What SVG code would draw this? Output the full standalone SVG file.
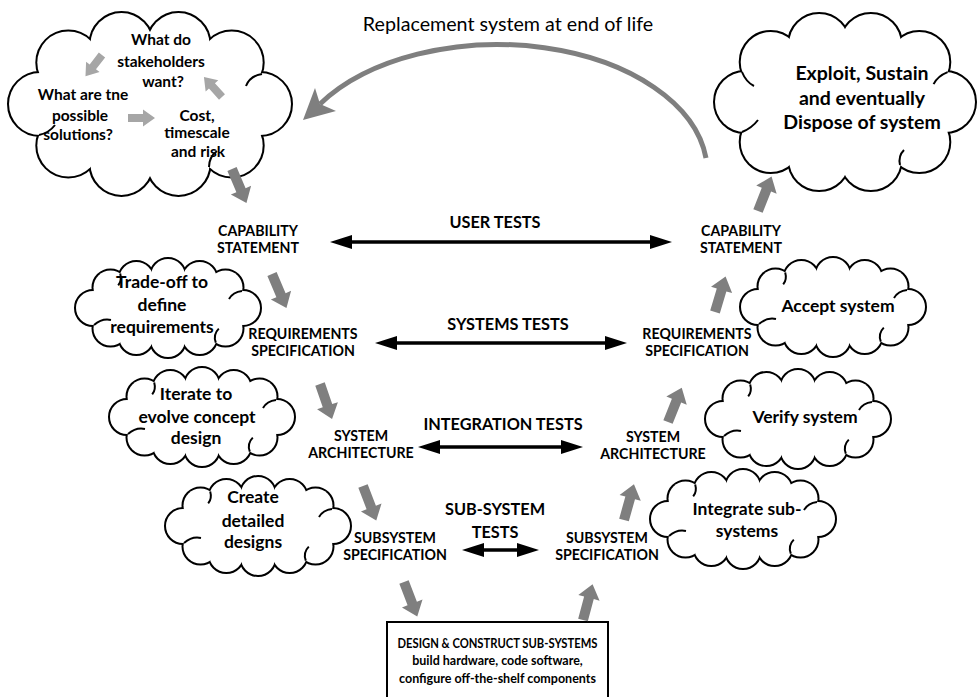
<svg xmlns="http://www.w3.org/2000/svg" xmlns:xlink="http://www.w3.org/1999/xlink" width="978" height="697" viewBox="0 0 978 697">
<style>
.t{font-family:Lato,"Liberation Sans",sans-serif;font-weight:bold;fill:#000;text-anchor:middle}
.reg{font-family:Lato,"Liberation Sans",sans-serif;font-weight:normal;fill:#000;text-anchor:middle;font-size:19.7px}
.s15{font-size:15.5px}.s17{font-size:17.5px}.s18{font-size:19.5px}.lab{font-size:14.2px}.tst{font-size:16.3px}.box{font-size:12.5px}
.cs{fill:#fff;stroke:#000;stroke-width:4}
.cf{fill:#fff;stroke:none}
.hk{fill:none;stroke:#000;stroke-width:2}
.dk{fill:#7f7f7f}
.lt{fill:#a6a6a6}
.dbl{stroke:#000;stroke-width:3.5;fill:none;marker-start:url(#ah);marker-end:url(#ah)}
</style>
<defs>
<marker id="ah" viewBox="0 0 22 14" refX="0" refY="7" markerWidth="22" markerHeight="14" markerUnits="userSpaceOnUse" orient="auto-start-reverse"><path d="M0,0 L22,7 L0,14 Z" fill="#000"/></marker>
<path id="blk" d="M-5,0 L5,0 L5,23 L11,23 L0,37 L-11,23 L-5,23 Z"/>
<path id="blkL" d="M-4,0 L4,0 L4,15 L8.5,15 L0,27 L-8.5,15 L-4,15 Z"/>
<g id="smallCloud">
<circle cx="75" cy="0" r="17"/>
<circle cx="57.5" cy="-20.6" r="17"/><circle cx="57.5" cy="20.6" r="17"/>
<circle cx="31.7" cy="-29" r="17"/><circle cx="31.7" cy="29" r="17"/>
<circle cx="0" cy="-32" r="17"/><circle cx="0" cy="32" r="17"/>
<circle cx="-31.7" cy="-29" r="17"/><circle cx="-31.7" cy="29" r="17"/>
<circle cx="-57.5" cy="-20.6" r="17"/><circle cx="-57.5" cy="20.6" r="17"/>
<circle cx="-75" cy="0" r="17"/>
<ellipse cx="0" cy="0" rx="76" ry="33"/>
</g>
<g id="smallHooks" class="hk">
<path d="M-74,17 q8,-7 17,-5"/>
<path d="M47.8,34.6 q-3,-8 3,-14"/>
<path d="M74,-17 q-9,1 -13,8"/>
<path d="M-47.8,-34.6 q2,7 -2,12"/>
</g>
<g id="cloudTL">
<circle cx="260" cy="104" r="31"/>
<circle cx="231.7" cy="62.5" r="31"/><circle cx="231.7" cy="145.5" r="31"/>
<circle cx="178.5" cy="44.1" r="31"/><circle cx="178.5" cy="163.9" r="31"/>
<circle cx="121.5" cy="44.1" r="31"/><circle cx="121.5" cy="163.9" r="31"/>
<circle cx="68.3" cy="62.5" r="31"/><circle cx="68.3" cy="145.5" r="31"/>
<circle cx="40" cy="104" r="31"/>
<ellipse cx="150" cy="104" rx="115" ry="66"/>
</g>
<g id="cloudTR">
<circle cx="945" cy="102" r="30"/>
<circle cx="919.3" cy="61.9" r="30"/><circle cx="919.3" cy="142.1" r="30"/>
<circle cx="870.9" cy="44" r="30"/><circle cx="870.9" cy="160" r="30"/>
<circle cx="819.1" cy="44" r="30"/><circle cx="819.1" cy="160" r="30"/>
<circle cx="770.7" cy="61.9" r="30"/><circle cx="770.7" cy="142.1" r="30"/>
<circle cx="745" cy="102" r="30"/>
<ellipse cx="845" cy="102" rx="105" ry="64"/>
</g>
</defs>

<g id="replacement">
<path d="M706,158 A210,128 0 0 0 320,104" fill="none" stroke="#7f7f7f" stroke-width="5"/>
<path d="M303,120 L315,88 L320,104 L336,111 Z" fill="#7f7f7f"/>
<text class="reg" x="508" y="31">Replacement system at end of life</text>
</g>

<g id="stakeholder-cloud">
<use xlink:href="#cloudTL" class="cs"/>
<use xlink:href="#cloudTL" class="cf"/>
<g class="hk">
<path d="M39,135 q10,-2 16,-10"/>
<path d="M209,167 q0,-10 8,-16"/>
<path d="M262,74 q-12,2 -16,12"/>
</g>
<use xlink:href="#blkL" class="lt" transform="translate(102,55) rotate(37.7)"/>
<use xlink:href="#blkL" class="lt" transform="translate(128,118) rotate(-90)"/>
<use xlink:href="#blkL" class="lt" transform="translate(222,97) rotate(138)"/>
<text class="t s15" x="161" y="45">What do</text>
<text class="t s15" x="161" y="67">stakeholders</text>
<text class="t s15" x="163" y="87">want?</text>
<text class="t s15" x="83" y="100">What are tne</text>
<text class="t s15" x="80" y="121">possible</text>
<text class="t s15" x="78" y="140">solutions?</text>
<text class="t s15" x="197" y="121">Cost,</text>
<text class="t s15" x="197" y="138">timescale</text>
<text class="t s15" x="198" y="157">and risk</text>
</g>

<g id="exploit-cloud">
<use xlink:href="#cloudTR" class="cs"/>
<use xlink:href="#cloudTR" class="cf"/>
<g class="hk">
<path d="M742,72 q4,10 12,14"/>
<path d="M742,132 q10,-4 16,-12"/>
<path d="M947.6,72.1 q-10,4 -14,12"/>
<path d="M900,165 q-2,-9 4,-15"/>
</g>
<text class="t s18" x="862" y="80">Exploit, Sustain</text>
<text class="t s18" x="862" y="105">and eventually</text>
<text class="t s18" x="862" y="129">Dispose of system</text>
</g>

<g id="tradeoff-cloud" transform="translate(168,308)">
<use xlink:href="#smallCloud" class="cs"/>
<use xlink:href="#smallCloud" class="cf"/>
<use xlink:href="#smallHooks"/>
<text class="t s17" x="-6" y="-20">Trade-off to</text>
<text class="t s17" x="-6" y="3">define</text>
<text class="t s17" x="-6" y="25">requirements</text>
</g>

<g id="accept-cloud" transform="translate(833,307)">
<use xlink:href="#smallCloud" class="cs"/>
<use xlink:href="#smallCloud" class="cf"/>
<use xlink:href="#smallHooks"/>
<text class="t s17" x="5" y="5">Accept system</text>
</g>

<g id="iterate-cloud" transform="translate(202,417)">
<use xlink:href="#smallCloud" class="cs"/>
<use xlink:href="#smallCloud" class="cf"/>
<use xlink:href="#smallHooks"/>
<text class="t s17" x="-6" y="-17">Iterate to</text>
<text class="t s17" x="-5" y="6">evolve concept</text>
<text class="t s17" x="-6" y="27">design</text>
</g>

<g id="verify-cloud" transform="translate(798,419)">
<use xlink:href="#smallCloud" class="cs"/>
<use xlink:href="#smallCloud" class="cf"/>
<use xlink:href="#smallHooks"/>
<text class="t s17" x="7" y="4">Verify system</text>
</g>

<g id="create-cloud" transform="translate(258,526)">
<use xlink:href="#smallCloud" class="cs"/>
<use xlink:href="#smallCloud" class="cf"/>
<use xlink:href="#smallHooks"/>
<text class="t s17" x="-5" y="-23">Create</text>
<text class="t s17" x="-5" y="1">detailed</text>
<text class="t s17" x="-5" y="22">designs</text>
</g>

<g id="integrate-cloud" transform="translate(743,519)">
<use xlink:href="#smallCloud" class="cs"/>
<use xlink:href="#smallCloud" class="cf"/>
<use xlink:href="#smallHooks"/>
<text class="t s17" x="4" y="-4">Integrate sub-</text>
<text class="t s17" x="4" y="18">systems</text>
</g>

<g id="cap-left"><text class="t lab" x="258" y="236">CAPABILITY</text><text class="t lab" x="258" y="253">STATEMENT</text></g>
<g id="cap-right"><text class="t lab" x="741" y="236">CAPABILITY</text><text class="t lab" x="741" y="253">STATEMENT</text></g>
<g id="req-left"><text class="t lab" x="303" y="339">REQUIREMENTS</text><text class="t lab" x="303" y="356">SPECIFICATION</text></g>
<g id="req-right"><text class="t lab" x="697" y="339">REQUIREMENTS</text><text class="t lab" x="697" y="356">SPECIFICATION</text></g>
<g id="arch-left"><text class="t lab" x="361" y="441">SYSTEM</text><text class="t lab" x="361" y="458">ARCHITECTURE</text></g>
<g id="arch-right"><text class="t lab" x="653" y="442">SYSTEM</text><text class="t lab" x="653" y="459">ARCHITECTURE</text></g>
<g id="sub-left"><text class="t lab" x="395" y="543">SUBSYSTEM</text><text class="t lab" x="395" y="560">SPECIFICATION</text></g>
<g id="sub-right"><text class="t lab" x="607" y="543">SUBSYSTEM</text><text class="t lab" x="607" y="560">SPECIFICATION</text></g>

<g id="build-box">
<rect x="387" y="622" width="221" height="82" fill="#fff" stroke="#000" stroke-width="2"/>
<text class="t box" x="497.5" y="648" textLength="200" lengthAdjust="spacingAndGlyphs">DESIGN &amp; CONSTRUCT SUB-SYSTEMS</text>
<text class="t box" x="497.5" y="665">build hardware, code software,</text>
<text class="t box" x="497.5" y="683">configure off-the-shelf components</text>
</g>

<g id="connectors">
<line class="dbl" x1="352" y1="242" x2="650" y2="242"/>
<line class="dbl" x1="397" y1="343" x2="605" y2="343"/>
<line class="dbl" x1="440" y1="447" x2="561" y2="447"/>
<line class="dbl" x1="484" y1="550" x2="517" y2="550"/>
<text class="t tst" x="495" y="228">USER TESTS</text>
<text class="t tst" x="508" y="330">SYSTEMS TESTS</text>
<text class="t tst" x="503" y="430">INTEGRATION TESTS</text>
<text class="t tst" x="495" y="515">SUB-SYSTEM</text>
<text class="t tst" x="495" y="538">TESTS</text>
<use xlink:href="#blk" class="dk" transform="translate(232,169) rotate(-23)"/>
<use xlink:href="#blk" class="dk" transform="translate(272,274) rotate(-23)"/>
<use xlink:href="#blk" class="dk" transform="translate(320,384) rotate(-19)"/>
<use xlink:href="#blk" class="dk" transform="translate(363,486) rotate(-21)"/>
<use xlink:href="#blk" class="dk" transform="translate(404,582) rotate(-21)"/>
<use xlink:href="#blk" class="dk" transform="translate(583,620) rotate(195)"/>
<use xlink:href="#blk" class="dk" transform="translate(624,520) rotate(195.6)"/>
<use xlink:href="#blk" class="dk" transform="translate(668,422) rotate(201.8)"/>
<use xlink:href="#blk" class="dk" transform="translate(715,312) rotate(196.6)"/>
<use xlink:href="#blk" class="dk" transform="translate(758,211) rotate(201.5)"/>
</g>
</svg>
